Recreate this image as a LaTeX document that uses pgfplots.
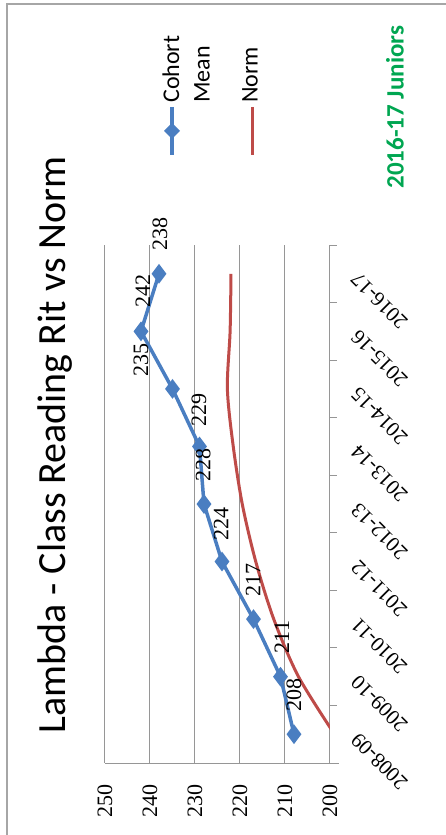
\documentclass[border=0pt]{standalone}
\usepackage{fontspec}
\setmainfont{Liberation Serif}
\newfontfamily\calibri{Carlito}
\usepackage{pgfplots}
\pgfplotsset{compat=1.18}

\definecolor{cohort}{RGB}{74,126,193}
\definecolor{norm}{RGB}{190,75,72}
\definecolor{gridgray}{RGB}{150,150,150}
\definecolor{juniors}{RGB}{0,166,81}

\pgfplotstableread{
cat value
0 208
1 211
2 217
3 224
4 228
5 229
6 235
7 242
8 238
}\cohortdata

\pgfplotstableread{
cat value
0 199
1 207
2 212.5
3 216.5
4 219.5
5 221.5
6 222.8
7 222.2
8 222.0
}\normdata

\begin{document}
\begin{tikzpicture}
\useasboundingbox (0,0) rectangle (445pt,835pt);
\draw[gray!70, line width=1.5pt] (7pt,-20pt) rectangle (470pt,831pt);

% title and side texts (chart is turned a quarter turn)
\node[rotate=90, font=\calibri\fontsize{40}{40}\selectfont] at (55pt,390pt) {Lambda - Class Reading Rit vs Norm};
\node[rotate=90, anchor=west, font=\calibri\bfseries\fontsize{25}{25}\selectfont, text=juniors] at (395pt,643pt) {2016-17 Juniors};

% legend
\draw[cohort, line width=3.5pt] (172pt,728pt) -- (172pt,680pt);
\fill[cohort] (172pt,712pt) -- (180pt,704pt) -- (172pt,696pt) -- (164pt,704pt) -- cycle;
\draw[norm, line width=3pt] (252pt,728pt) -- (252pt,680pt);
\node[rotate=90, anchor=west, inner sep=0pt, font=\calibri\fontsize{24}{24}\selectfont] at (171pt,732pt) {Cohort};
\node[rotate=90, anchor=west, inner sep=0pt, font=\calibri\fontsize{24}{24}\selectfont] at (202pt,732pt) {Mean};
\node[rotate=90, anchor=west, inner sep=0pt, font=\calibri\fontsize{24}{24}\selectfont] at (250pt,732pt) {Norm};

\begin{axis}[
  at={(105pt,72pt)}, anchor=south west,
  scale only axis, width=225pt, height=518pt,
  x dir=reverse,
  xmin=200, xmax=250, ymin=-0.5, ymax=8.5,
  xtick={200,210,...,250},
  ytick={0,...,8},
  yticklabels={2008-09,2009-10,2010-11,2011-12,2012-13,2013-14,2014-15,2015-16,2016-17},
  minor ytick={-0.5,0.5,...,8.5},
  major tick length=0pt, minor tick length=7pt,
  tick align=outside,
  ytick pos=right, yticklabel pos=right,
  xmajorgrids, grid style={gridgray, line width=1pt},
  axis line style={draw=none},
  minor tick style={gridgray, line width=1pt},
  xticklabel style={yshift=-18pt, rotate=90, anchor=east, font=\fontsize{22}{22}\selectfont},
  yticklabel style={xshift=22pt, rotate=135, anchor=east, font=\fontsize{21}{21}\selectfont},
  /pgf/number format/assume math mode=true,
  clip mode=individual,
]
\draw[gridgray, line width=1pt] (axis cs:198,-0.5) -- (axis cs:250,-0.5);
\draw[gridgray, line width=1pt] (axis cs:200,-0.5) -- (axis cs:200,8.5);

\addplot[norm, line width=3pt, smooth, no markers] table[x=value, y=cat] {\normdata};
\addplot[cohort, line width=3.5pt, mark=diamond*, mark size=7pt, mark options={solid, fill=cohort}] table[x=value, y=cat] {\cohortdata};

\begin{scope}[every node/.style={rotate=90, font=\fontsize{22}{22}\selectfont}]
\node at (axis cs:208.0,0.68) {208};
\node at (axis cs:210.7,1.69) {211};
\node at (axis cs:217.1,2.68) {217};
\node at (axis cs:224.2,3.65) {224};
\node at (axis cs:228.2,4.68) {228};
\node at (axis cs:229.1,5.63) {229};
\node at (axis cs:242.0,6.50) {235};
\node at (axis cs:241.6,7.70) {242};
\node at (axis cs:237.8,8.69) {238};
\end{scope}
\end{axis}
\end{tikzpicture}
\end{document}
